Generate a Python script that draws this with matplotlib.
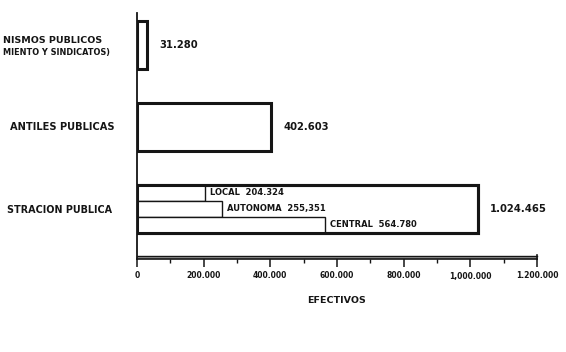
import matplotlib
matplotlib.use("Agg")
import matplotlib.pyplot as plt

# ---- data ----
categories = ["STRACION PUBLICA", "ANTILES PUBLICAS", "NISMOS PUBLICOS"]
sublabel_first = "MIENTO Y SINDICATOS)"
totals = [1024465, 402603, 31280]
total_labels = ["1.024.465", "402.603", "31.280"]
sub_names = ["LOCAL", "AUTONOMA", "CENTRAL"]
sub_values = [204324, 255351, 564780]
sub_value_labels = ["204.324", "255,351", "564.780"]
xticks = [0, 200000, 400000, 600000, 800000, 1000000, 1200000]
xtick_labels = ["0", "200.000", "400.000", "600.000", "800.000", "1,000.000", "1.200.000"]
xminor = [100000, 300000, 500000, 700000, 900000, 1100000]
xlabel = "EFECTIVOS"

W, H = 566, 352
fig = plt.figure(figsize=(W / 100, H / 100), dpi=100)
ax = fig.add_axes([137 / W, (H - 259) / H, 400 / W, (259 - 13) / H])

ink = "#151515"
font = dict(family="DejaVu Sans", weight="bold", color=ink)

ypos = [0, 1, 2]
bh = 0.585
ax.barh(ypos, totals, height=bh, left=0, color="white", edgecolor=ink,
        linewidth=2.2, zorder=3)

# sub-bars inside the first category
sh = bh / 3
sub_y = [ypos[0] + sh, ypos[0], ypos[0] - sh]
ax.barh(sub_y, sub_values, height=sh, left=0, color="white", edgecolor=ink,
        linewidth=1.0, zorder=4)
# redraw outer edge on top
ax.barh([ypos[0]], [totals[0]], height=bh, left=0, color="none", edgecolor=ink,
        linewidth=2.2, zorder=5)

for y, v, lab in zip(ypos, totals, total_labels):
    ax.annotate(lab, (v, y), xytext=(8.5, 0), textcoords="offset points",
                ha="left", va="center", fontsize=7.2, **font)

for y, v, n, lab in zip(sub_y, sub_values, sub_names, sub_value_labels):
    ax.annotate(f"{n}  {lab}", (v, y), xytext=(3.5, 0), textcoords="offset points",
                ha="left", va="center", fontsize=6.0, zorder=6, **font)

# category labels (left, cropped in original)
tr = ax.get_yaxis_transform()
ax.text(-0.0875, ypos[2] + 0.06, categories[2], transform=tr, ha="right",
        va="center", fontsize=6.8, **font)
ax.text(-0.068, ypos[2] - 0.09, sublabel_first, transform=tr, ha="right",
        va="center", fontsize=5.9, **font)
ax.text(-0.055, ypos[1], categories[1], transform=tr, ha="right",
        va="center", fontsize=7.1, **font)
ax.text(-0.0625, ypos[0] - 0.01, categories[0], transform=tr, ha="right",
        va="center", fontsize=6.9, **font)

ax.set_xlim(0, 1200000)
ax.set_ylim(-0.61, 2.39)

for s in ["top", "right"]:
    ax.spines[s].set_visible(False)
ax.spines["left"].set_linewidth(1.3)
ax.spines["left"].set_color(ink)
ax.spines["bottom"].set_linewidth(1.2)
ax.spines["bottom"].set_color(ink)
# double line of the x-axis
ax.plot([0, 1200000], [-0.61 + 0.036] * 2, color=ink, lw=1.0, clip_on=False, zorder=2)
ax.plot([0, 1200000], [-0.61 + 0.018] * 2, color="#888888", lw=1.2, clip_on=False, zorder=1)
ax.plot([1200000, 1200000], [-0.61, -0.61 + 0.05], color=ink, lw=1.2, clip_on=False)

ax.set_yticks([])
ax.set_xticks(xticks)
ax.set_xticklabels(xtick_labels, fontsize=5.5, **font)
ax.set_xticks(xminor, minor=True)
ax.tick_params(axis="x", which="major", length=6, width=1.1, color=ink, pad=3)
ax.tick_params(axis="x", which="minor", length=3, width=1.0, color=ink)

ax.set_xlabel(xlabel, fontsize=6.8, labelpad=11, **font)

fig.savefig("out.png", dpi=100, facecolor="white")
